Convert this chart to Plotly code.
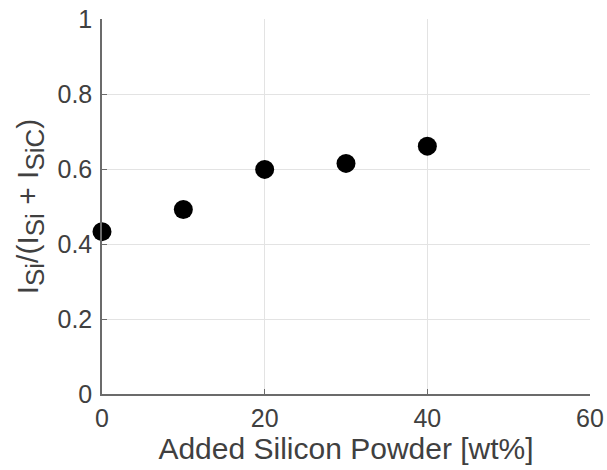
import plotly.graph_objects as go

x_wt = [0, 10, 20, 30, 40]
ratio = [0.433, 0.492, 0.599, 0.615, 0.661]
x_ticks = [0, 20, 40, 60]
y_ticks = [0, 0.2, 0.4, 0.6, 0.8, 1]
y_ticklabels = ["0", "0.2", "0.4", "0.6", "0.8", "1"]

fig = go.Figure()
fig.add_trace(go.Scatter(
    x=x_wt, y=ratio, mode="markers",
    marker=dict(color="black", size=19, line=dict(width=0)),
    cliponaxis=False,
))

font_fam = "Liberation Sans, Arial, sans-serif"
sub = lambda s: "<sub><span style='font-size:26px'>" + s + "</span></sub>"
fig.update_layout(
    width=607, height=470,
    margin=dict(l=102, r=17, t=19, b=76),
    paper_bgcolor="white", plot_bgcolor="white",
    showlegend=False,
    font=dict(family=font_fam, color="#404040"),
)
fig.update_xaxes(
    range=[0, 60], tickvals=x_ticks, ticktext=[str(v) for v in x_ticks],
    automargin=False,
    showgrid=True, gridcolor="#e3e3e3", gridwidth=1,
    showline=True, linecolor="#6b6b6b", linewidth=1.5,
    ticks="inside", ticklen=5, tickcolor="#6b6b6b",
    tickfont=dict(size=25, color="#404040"),
    ticklabelstandoff=1,
    zeroline=False,
    title=dict(text="Added Silicon Powder [wt%]", font=dict(size=30, color="#404040"), standoff=0),
)
fig.update_yaxes(
    range=[0, 1], tickvals=y_ticks, ticktext=y_ticklabels,
    automargin=False,
    showgrid=True, gridcolor="#e3e3e3", gridwidth=1,
    showline=True, linecolor="#6b6b6b", linewidth=1.5,
    ticks="inside", ticklen=5, tickcolor="#6b6b6b",
    tickfont=dict(size=25, color="#404040"),
    ticklabelstandoff=3,
    zeroline=False,
    title=dict(text="I" + sub("Si") + "/(I" + sub("Si") + " + I" + sub("SiC") + ")",
               font=dict(size=30, color="#404040"), standoff=10),
)

fig.write_html("out.html")
